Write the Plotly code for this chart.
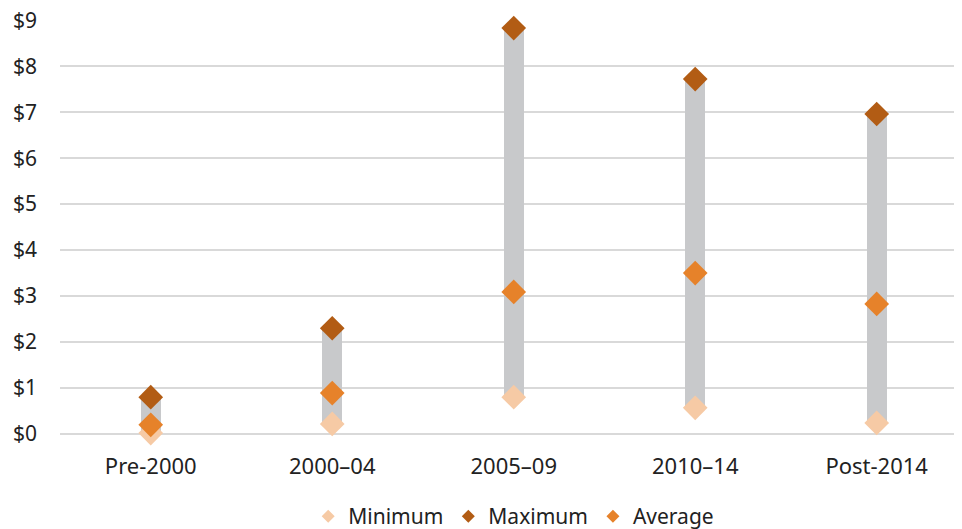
import plotly.graph_objects as go

categories = ["Pre-2000", "2000–04", "2005–09", "2010–14", "Post-2014"]
minimum = [0.02, 0.22, 0.80, 0.57, 0.24]
maximum = [0.80, 2.30, 8.83, 7.72, 6.96]
average = [0.20, 0.89, 3.09, 3.50, 2.83]
y_ticks = [0, 1, 2, 3, 4, 5, 6, 7, 8, 9]
y_labels = ["$" + str(v) for v in y_ticks]

c_min = "#f6caa5"
c_max = "#b25c14"
c_avg = "#e6822a"
c_bar = "#c8c9cb"
font_family = "Noto Sans"

fig = go.Figure()
fig.add_trace(go.Bar(
    x=categories, y=[mx - mn for mx, mn in zip(maximum, minimum)], base=minimum,
    width=0.11, marker=dict(color=c_bar, line=dict(width=0)), showlegend=False,
    hoverinfo="skip"))
for name, vals, col in [("Minimum", minimum, c_min), ("Maximum", maximum, c_max), ("Average", average, c_avg)]:
    fig.add_trace(go.Scatter(
        x=categories, y=vals, mode="markers", name=name, showlegend=False,
        marker=dict(symbol="diamond", size=19, color=col, line=dict(width=0)),
        cliponaxis=False))
for name, col in [("Minimum", c_min), ("Maximum", c_max), ("Average", c_avg)]:
    fig.add_trace(go.Scatter(
        x=[None], y=[None], mode="markers", name=name, showlegend=True,
        marker=dict(symbol="diamond", size=10, color=col, line=dict(width=0))))

fig.update_layout(
    width=954, height=521,
    margin=dict(l=52, r=0, t=12, b=95, autoexpand=False),
    paper_bgcolor="white", plot_bgcolor="white",
    font=dict(family=font_family, size=22, color="#222222"),
    showlegend=True,
    legend=dict(orientation="h", x=0.503, xanchor="center", y=-0.150, yanchor="top",
                font=dict(size=21), itemwidth=30, traceorder="normal"),
    xaxis=dict(range=[-0.5, 4.47], showgrid=False, showline=False, ticks="",
               ticklabelstandoff=17, tickfont=dict(size=22), automargin=False),
    yaxis=dict(range=[0, 9.005], tickvals=y_ticks, ticktext=y_labels, showgrid=True,
               gridcolor="#d9d9d9", gridwidth=1.5, zeroline=True, zerolinecolor="#d9d9d9",
               zerolinewidth=1.5, showline=False, ticks="", ticklabelstandoff=22,
               ticklabeloverflow="allow",
               tickfont=dict(size=21), automargin=False),
    bargap=0,
)

fig.write_html("out.html")
